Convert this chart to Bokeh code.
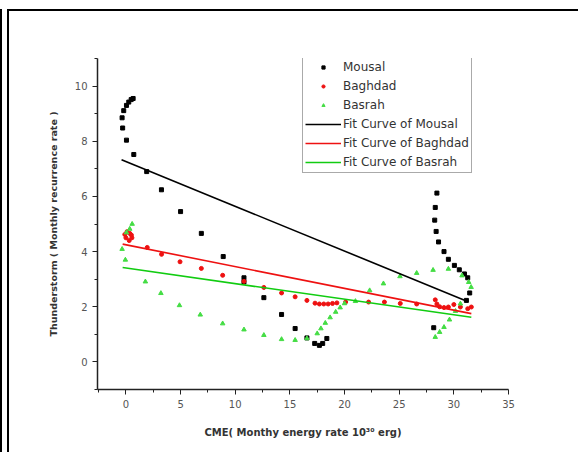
from bokeh.plotting import figure
from bokeh.models import Range1d, FixedTicker, Legend, LegendItem
from bokeh.embed import file_html
from bokeh.resources import INLINE

# ---- data ----
mousal_x = [-0.35, -0.3, -0.2, 0.05, 0.26, 0.48, 0.66, 0.05, 0.72, 1.9, 3.25, 5.0, 6.9, 8.9,
            10.8, 10.8, 12.62, 14.24, 15.48, 16.56, 17.27, 17.7, 18.0, 18.38,
            28.16, 28.45, 28.3, 28.25, 28.38, 28.6, 29.1, 29.5, 30.05, 30.5, 30.97, 31.27, 31.45, 31.15]
mousal_y = [8.85, 8.48, 9.11, 9.3, 9.42, 9.51, 9.55, 8.04, 7.52, 6.9, 6.24, 5.45, 4.66, 3.82,
            3.05, 2.9, 2.33, 1.72, 1.21, 0.87, 0.67, 0.6, 0.67, 0.85,
            1.24, 6.12, 5.6, 5.14, 4.73, 4.35, 4.0, 3.72, 3.5, 3.34, 3.19, 3.05, 2.5, 2.23]

baghdad_x = [-0.1, 0.1, 0.35, 0.55, 0.3, 0.0, 0.5, 1.95, 3.26, 4.95, 6.9, 8.85, 10.8, 12.62,
             14.24, 15.48, 16.56, 17.3, 17.7, 18.1, 18.5, 18.9, 19.3, 20.1, 22.2, 23.65, 25.1,
             26.6, 28.3, 28.45, 28.7, 29.1, 29.5, 30.0, 30.6, 31.27, 31.6]
baghdad_y = [4.62, 4.72, 4.66, 4.5, 4.4, 4.5, 4.6, 4.15, 3.9, 3.63, 3.39, 3.14, 2.92, 2.7,
             2.5, 2.36, 2.23, 2.13, 2.1, 2.1, 2.1, 2.12, 2.14, 2.17, 2.17, 2.17, 2.12,
             2.1, 2.25, 2.1, 2.0, 1.97, 1.99, 2.08, 1.99, 1.93, 1.99]

basrah_x = [-0.35, -0.05, 0.05, 0.35, 0.57, 1.78, 3.2, 4.9, 6.8, 8.85, 10.8, 12.62, 14.24, 15.48,
            16.56, 17.5, 17.84, 18.24, 18.68, 19.19, 19.6, 20.0, 21.0, 22.3, 23.56, 25.07, 26.6,
            28.1, 29.5, 30.75, 31.36, 31.58, 30.6, 30.15, 29.6, 29.1, 28.7, 28.3]
basrah_y = [4.09, 3.7, 4.69, 4.82, 5.0, 2.91, 2.49, 2.05, 1.71, 1.39, 1.17, 0.97, 0.82, 0.79,
            0.85, 1.03, 1.21, 1.41, 1.61, 1.81, 1.97, 2.12, 2.2, 2.59, 2.84, 3.1, 3.22,
            3.33, 3.37, 3.13, 2.89, 2.71, 2.11, 1.84, 1.53, 1.26, 1.08, 0.9]

mousal_fit_x = [-0.4, 31.2]
mousal_fit_y = [7.33, 2.2]
baghdad_fit_x = [-0.3, 31.6]
baghdad_fit_y = [4.27, 1.75]
basrah_fit_x = [-0.3, 31.6]
basrah_fit_y = [3.42, 1.62]

x_ticks = [0, 5, 10, 15, 20, 25, 30, 35]
y_ticks = [0, 2, 4, 6, 8, 10]

GREEN_PT = "#44dd44"
GREEN_LN = "#11cc11"
FONT = "DejaVu Sans"

p = figure(frame_width=411, frame_height=331,
           min_border_left=88, min_border_top=47, min_border_right=70, min_border_bottom=63,
           x_range=Range1d(-2.6, 35), y_range=Range1d(-1, 11),
           output_backend="svg", toolbar_location=None)
p.styles = {"margin-left": "7px", "margin-top": "9px",
            "border-left": "2px solid black", "border-top": "2px solid black",
            "box-shadow": "-5px 0 0 0 white, -7px 0 0 0 black"}
p.outline_line_color = None
p.grid.visible = False
p.background_fill_color = "white"
p.border_fill_color = "white"

for ax in (p.xaxis[0], p.yaxis[0]):
    ax.axis_line_color = "#222222"
    ax.axis_line_width = 1.5
    ax.major_tick_line_color = "#222222"
    ax.minor_tick_line_color = "#222222"
    ax.major_tick_out = 5
    ax.major_tick_in = 0
    ax.minor_tick_out = 3
    ax.minor_tick_in = 0
    ax.major_label_text_font = FONT
    ax.major_label_text_font_size = "10px"
    ax.major_label_text_color = "#555555"
    ax.axis_label_text_font = FONT
    ax.axis_label_text_font_style = "bold"
    ax.axis_label_text_font_size = "10px"
    ax.axis_label_text_color = "#333333"
p.yaxis.axis_label_text_font_size = "9.5px"

p.xaxis.ticker = FixedTicker(ticks=x_ticks, minor_ticks=[-2.5, 2.5, 7.5, 12.5, 17.5, 22.5, 27.5, 32.5])
p.yaxis.ticker = FixedTicker(ticks=y_ticks, minor_ticks=[-1, 1, 3, 5, 7, 9, 11])
p.xaxis.axis_label = "CME( Monthy energy rate 10³⁰ erg)"
p.yaxis.axis_label = "Thunderstorm ( Monthly recurrence rate )"
p.xaxis.axis_label_standoff = 16
p.yaxis.axis_label_standoff = 13
p.xaxis.major_label_standoff = 5
p.yaxis.major_label_standoff = 5

r_m = p.scatter(mousal_x, mousal_y, marker="square", size=4, color="black")
r_b = p.scatter(baghdad_x, baghdad_y, marker="circle", size=4, color="#ee1111")
r_s = p.scatter(basrah_x, basrah_y, marker="triangle", size=4.5, color=GREEN_PT)
l_m = p.line(mousal_fit_x, mousal_fit_y, line_color="black", line_width=1.6)
l_b = p.line(baghdad_fit_x, baghdad_fit_y, line_color="#ee1111", line_width=1.6)
l_s = p.line(basrah_fit_x, basrah_fit_y, line_color=GREEN_LN, line_width=1.6)

legend = Legend(items=[
    LegendItem(label="Mousal", renderers=[r_m]),
    LegendItem(label="Baghdad", renderers=[r_b]),
    LegendItem(label="Basrah", renderers=[r_s]),
    LegendItem(label="Fit Curve of Mousal", renderers=[l_m]),
    LegendItem(label="Fit Curve of Baghdad", renderers=[l_b]),
    LegendItem(label="Fit Curve of Basrah", renderers=[l_s]),
], location=(205, 216))
legend.label_text_font = FONT
legend.label_text_font_size = "12px"
legend.label_text_color = "#333333"
legend.label_height = 16
legend.glyph_height = 8
legend.glyph_width = 36
legend.spacing = 3
legend.padding = 2
legend.margin = 0
legend.label_standoff = 2
legend.border_line_color = "#555555"
legend.border_line_width = 1
legend.background_fill_alpha = 1
p.add_layout(legend)

open("out.html", "w").write(file_html(p, INLINE))
